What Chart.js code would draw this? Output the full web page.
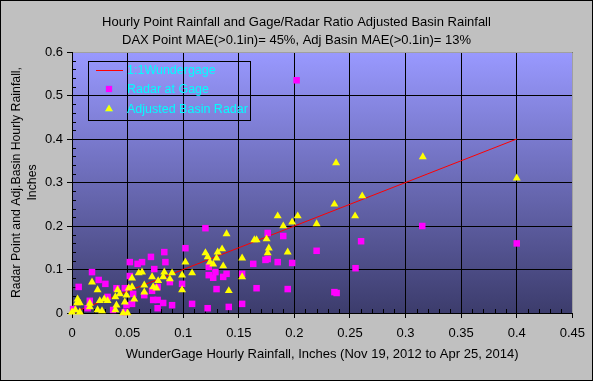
<!DOCTYPE html>
<html lang="en">
<head>
    <meta charset="UTF-8">
    <title>Hourly Point Rainfall and Gage/Radar Ratio Adjusted Basin Rainfall</title>
    <script src="https://cdn.jsdelivr.net/npm/chart.js"></script>
    <style>
        body {
            margin: 0;
            padding: 0;
            background: #c0c0c0;
        }
        canvas {
            display: block;
        }
    </style>
</head>
<body>

    <canvas id="rainChart" width="593" height="381"></canvas>

    <script>
        const titleLines = [
            'Hourly Point Rainfall and Gage/Radar Ratio Adjusted Basin Rainfall',
            'DAX Point MAE(>0.1in)= 45%, Adj Basin MAE(>0.1in)= 13%'
        ];

        const xTickValues = [0, 0.05, 0.1, 0.15, 0.2, 0.25, 0.3, 0.35, 0.4, 0.45];
        const xTickLabels = ['0', '0.05', '0.1', '0.15', '0.2', '0.25', '0.3', '0.35', '0.4', '0.45'];
        const yTickValues = [0, 0.1, 0.2, 0.3, 0.4, 0.5, 0.6];
        const yTickLabels = ['0', '0.1', '0.2', '0.3', '0.4', '0.5', '0.6'];

        // 1:1 reference line
        const lineX = [0, 0.4];
        const lineY = [0, 0.4];

        // Radar at Gage (magenta squares)
        const gageX = [0.202, 0.315, 0.4, 0.26, 0.255, 0.176, 0.19, 0.22, 0.185, 0.198, 0.176, 0.194, 0.236, 0.238,
            0.12, 0.174, 0.163, 0.123, 0.129, 0.123, 0.127, 0.136, 0.139, 0.153, 0.13, 0.166, 0.153, 0.141, 0.122,
            0.102, 0.083, 0.084, 0.071, 0.063, 0.059, 0.052, 0.074, 0.088, 0.099, 0.077, 0.072, 0.065, 0.073, 0.077,
            0.082, 0.077, 0.09, 0.108, 0.055, 0.054,
            0.018, 0.024, 0.03, 0.006, 0.052, 0.04, 0.0475, 0.032, 0.016, 0.049, 0.001, 0.014, 0.037, 0.0475];
        const gageY = [0.535, 0.2, 0.16, 0.165, 0.103, 0.184, 0.177, 0.143, 0.117, 0.115, 0.124, 0.055, 0.048, 0.046,
            0.195, 0.122, 0.113, 0.106, 0.094, 0.087, 0.081, 0.083, 0.09, 0.09, 0.055, 0.057, 0.021, 0.014, 0.011,
            0.149, 0.14, 0.117, 0.129, 0.117, 0.113, 0.117, 0.101, 0.071, 0.067, 0.06, 0.051, 0.041, 0.03, 0.03,
            0.023, 0.011, 0.018, 0.021, 0.044, 0.021,
            0.094, 0.076, 0.067, 0.06, 0.085, 0.057, 0.057, 0.037, 0.028, 0.018, 0.009, 0.011, 0.007, 0.002];

        // Adjusted Basin Radar (yellow triangles)
        const adjX = [0.2375, 0.236, 0.185, 0.203, 0.198, 0.19, 0.22, 0.175, 0.177, 0.176, 0.194, 0.3155, 0.4, 0.261, 0.2546,
            0.139, 0.164, 0.166, 0.12, 0.122, 0.131, 0.135, 0.13, 0.124, 0.127, 0.136, 0.153, 0.153, 0.141,
            0.102, 0.108, 0.099, 0.099, 0.09, 0.083, 0.082, 0.088, 0.0775, 0.072, 0.063, 0.06, 0.054, 0.065, 0.073,
            0.076, 0.065, 0.054, 0.056,
            0.018, 0.023, 0.041, 0.051, 0.043, 0.039, 0.049, 0.029, 0.025, 0.032, 0.005, 0.0045, 0.007, 0.016,
            0.003, 0.007, 0, 0.023, 0.027, 0.039, 0.04, 0.0475, 0.05, 0.046, 0.016];
        const adjY = [0.345, 0.25, 0.223, 0.223, 0.209, 0.2, 0.205, 0.17, 0.149, 0.138, 0.14, 0.359, 0.31, 0.269, 0.223,
            0.182, 0.168, 0.168, 0.138, 0.129, 0.14, 0.147, 0.126, 0.117, 0.112, 0.108, 0.126, 0.083, 0.051,
            0.117, 0.092, 0.087, 0.053, 0.092, 0.094, 0.083, 0.078, 0.074, 0.083, 0.094, 0.092, 0.08, 0.064, 0.06,
            0.057, 0.048, 0.06, 0.032,
            0.071, 0.053, 0.053, 0.057, 0.044, 0.037, 0.041, 0.032, 0.028, 0.028, 0.032, 0.023, 0.023, 0.014,
            0.007, 0.002, 0.002, 0.007, 0.005, 0.007, 0.018, 0.025, 0, 0, 0.022];

        const fontFamily = "'Liberation Sans', Arial, sans-serif";
        Chart.defaults.font.family = fontFamily;
        Chart.defaults.color = '#000';

        function toPoints(xs, ys) {
            return xs.map((x, i) => ({ x: x, y: ys[i] }));
        }

        // gray page, gradient plot area
        const backgroundPlugin = {
            id: 'background',
            beforeDraw(chart) {
                const { ctx, chartArea: a, width, height } = chart;
                ctx.save();
                ctx.fillStyle = '#c0c0c0';
                ctx.fillRect(0, 0, width, height);
                const grad = ctx.createLinearGradient(0, a.top, 0, a.bottom);
                grad.addColorStop(0, '#9999ff');
                grad.addColorStop(1, '#3c3c6c');
                ctx.fillStyle = grad;
                ctx.fillRect(a.left, a.top, a.right - a.left, a.bottom - a.top);
                ctx.restore();
            }
        };

        // minor ticks + gray plot border (top/right)
        const minorTicksPlugin = {
            id: 'minorTicks',
            beforeDatasetsDraw(chart) {
                const { ctx, chartArea: a, scales } = chart;
                ctx.save();
                ctx.strokeStyle = '#000';
                ctx.lineWidth = 1;
                ctx.beginPath();
                for (let i = 1; i < 45; i++) {
                    if (i % 5 === 0) continue;
                    const px = Math.round(scales.x.getPixelForValue(i / 100)) + 0.5;
                    ctx.moveTo(px, a.bottom);
                    ctx.lineTo(px, a.bottom - 4);
                }
                for (let i = 1; i < 30; i++) {
                    if (i % 5 === 0) continue;
                    const py = Math.round(scales.y.getPixelForValue(i / 50)) + 0.5;
                    ctx.moveTo(a.left, py);
                    ctx.lineTo(a.left + 4, py);
                }
                ctx.stroke();
                ctx.strokeStyle = '#a0a0a0';
                ctx.beginPath();
                ctx.moveTo(a.left + 1, Math.round(a.top) + 0.5);
                ctx.lineTo(Math.round(a.right) + 0.5, Math.round(a.top) + 0.5);
                ctx.lineTo(Math.round(a.right) + 0.5, Math.round(a.bottom));
                ctx.stroke();
                ctx.restore();
            }
        };

        // chart title, boxed legend, outer border
        const decorPlugin = {
            id: 'decor',
            afterDraw(chart) {
                const { ctx, width, height } = chart;
                ctx.save();
                ctx.fillStyle = '#000';
                ctx.font = '13px ' + fontFamily;
                ctx.textAlign = 'center';
                ctx.textBaseline = 'middle';
                ctx.fillText(titleLines[0], width / 2, 22);
                ctx.fillText(titleLines[1], width / 2, 40);

                // legend box
                ctx.strokeStyle = '#000';
                ctx.lineWidth = 1;
                ctx.strokeRect(88.5, 61.5, 162, 59);
                const ds = chart.data.datasets;
                const rows = [70, 89, 109];
                ctx.textAlign = 'left';
                ctx.font = '12.5px ' + fontFamily;
                ds.forEach((d, i) => {
                    const cy = rows[i];
                    if (i === 0) {
                        ctx.strokeStyle = d.borderColor;
                        ctx.beginPath();
                        ctx.moveTo(96, cy + 0.5);
                        ctx.lineTo(123, cy + 0.5);
                        ctx.stroke();
                    } else {
                        Chart.helpers.drawPoint(ctx, {
                            pointStyle: d.pointStyle,
                            radius: d.pointRadius,
                            borderWidth: 0
                        }, 109, cy);
                        ctx.fillStyle = d.backgroundColor;
                        ctx.fill();
                    }
                    ctx.fillStyle = '#00ffff';
                    ctx.fillText(d.label, 127, cy + 1);
                });

                ctx.strokeStyle = '#000';
                ctx.strokeRect(0.5, 0.5, width - 1, height - 1);
                ctx.restore();
            }
        };

        const ctx = document.getElementById('rainChart').getContext('2d');
        new Chart(ctx, {
            type: 'scatter',
            data: {
                datasets: [
                    {
                        type: 'line',
                        label: '1:1Wundergage',
                        data: toPoints(lineX, lineY),
                        borderColor: '#ff0000',
                        borderWidth: 1,
                        pointRadius: 0,
                        fill: false,
                        order: 3
                    },
                    {
                        label: 'Radar at Gage',
                        data: toPoints(gageX, gageY),
                        pointStyle: 'rect',
                        pointRadius: 4.6,
                        backgroundColor: '#ff00ff',
                        borderWidth: 0,
                        clip: false,
                        order: 2
                    },
                    {
                        label: 'Adjusted Basin Radar',
                        data: toPoints(adjX, adjY),
                        pointStyle: 'triangle',
                        pointRadius: 4.6,
                        backgroundColor: '#ffff00',
                        borderWidth: 0,
                        clip: false,
                        order: 1
                    }
                ]
            },
            options: {
                responsive: false,
                animation: false,
                layout: {
                    padding: { top: 52, right: 19, left: 0, bottom: 0 }
                },
                plugins: {
                    legend: { display: false },
                    tooltip: { enabled: false }
                },
                scales: {
                    x: {
                        type: 'linear',
                        min: 0,
                        max: 0.45,
                        afterBuildTicks: s => { s.ticks = xTickValues.map(v => ({ value: v })); },
                        afterFit: s => { s.height = 68; },
                        ticks: {
                            callback: (v, i) => xTickLabels[i],
                            font: { size: 13 },
                            padding: 8,
                            maxRotation: 0,
                            autoSkip: false
                        },
                        grid: { color: '#000', lineWidth: 1, tickLength: 5 },
                        border: { color: '#000' },
                        title: {
                            display: true,
                            text: 'WunderGage Hourly Rainfall, Inches (Nov 19, 2012 to Apr 25, 2014)',
                            font: { size: 13, lineHeight: 1.25 },
                            padding: { top: 0, bottom: 18 }
                        }
                    },
                    y: {
                        type: 'linear',
                        min: 0,
                        max: 0.6,
                        afterBuildTicks: s => { s.ticks = yTickValues.map(v => ({ value: v })); },
                        afterFit: s => { s.width = 72; },
                        ticks: {
                            callback: (v, i) => yTickLabels[i],
                            font: { size: 13 },
                            padding: 4
                        },
                        grid: { color: '#000', lineWidth: 1, tickLength: 5 },
                        border: { color: '#000' },
                        title: {
                            display: true,
                            text: ['Radar Point and Adj.Basin Hourly Rainfall,', 'Inches'],
                            font: { size: 12.3, lineHeight: 1.32 },
                            padding: { top: 8, bottom: 0 }
                        }
                    }
                }
            },
            plugins: [backgroundPlugin, minorTicksPlugin, decorPlugin]
        });
    </script>

</body>
</html>
